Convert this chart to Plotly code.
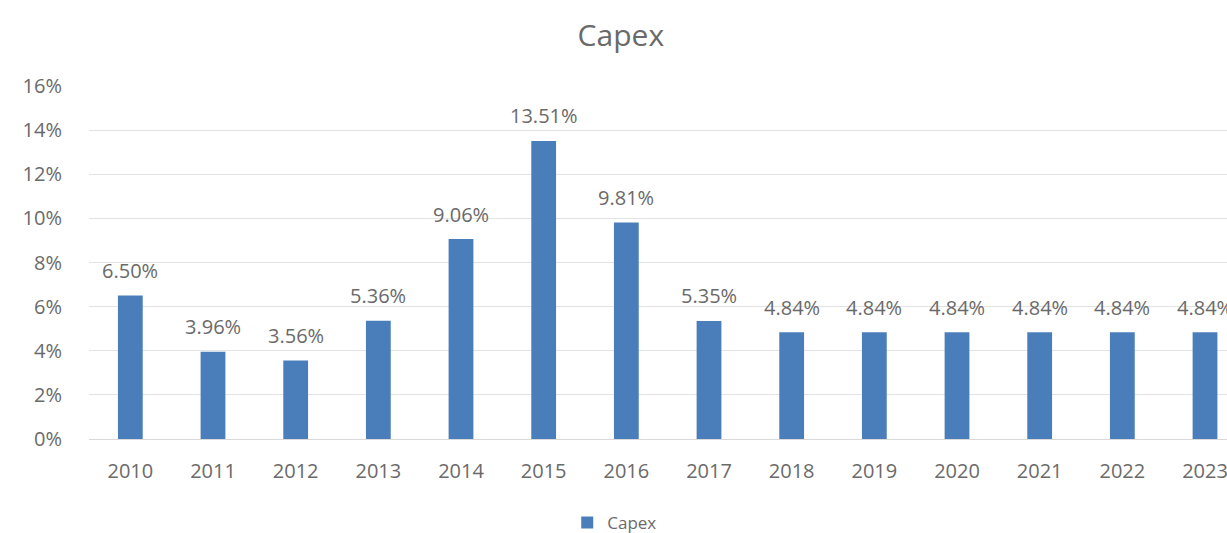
import plotly.graph_objects as go

years = ["2010", "2011", "2012", "2013", "2014", "2015", "2016",
         "2017", "2018", "2019", "2020", "2021", "2022", "2023"]
capex = [6.50, 3.96, 3.56, 5.36, 9.06, 13.51, 9.81,
         5.35, 4.84, 4.84, 4.84, 4.84, 4.84, 4.84]
y_ticks = [0, 2, 4, 6, 8, 10, 12, 14, 16]
y_tick_labels = [f"{v}%" for v in y_ticks]

FONT = "Open Sans, Noto Sans, sans-serif"
GRAY = "#6a6a6a"

fig = go.Figure()
fig.add_trace(go.Bar(
    x=years, y=capex, name="Capex",
    marker=dict(color="#4A7EBB", line=dict(width=0)),
    cliponaxis=False,
))

# data labels: x is the category index on the category axis
for i, v in enumerate(capex):
    fig.add_annotation(x=i, y=v, xref="x", yref="y", text=f"{v:.2f}%",
                       showarrow=False, yanchor="middle", yshift=25,
                       font=dict(family=FONT, size=20, color=GRAY))

fig.update_layout(
    width=1227, height=533,
    margin=dict(l=89, r=0, t=86, b=94, autoexpand=False),
    paper_bgcolor="white", plot_bgcolor="white",
    title=dict(text="Capex", x=0.506, xref="container", xanchor="center",
               y=0.933, yref="container", yanchor="middle",
               font=dict(family=FONT, size=30, color=GRAY)),
    bargap=0.70,
    showlegend=True,
    legend=dict(orientation="h", x=0.501, xanchor="center", xref="container",
                y=-0.238, yanchor="middle", yref="paper",
                font=dict(family=FONT, size=17, color=GRAY),
                itemwidth=30),
    xaxis=dict(type="category", range=[-0.5, 13.266],
               showgrid=False, zeroline=False, showline=True,
               linecolor="#D9D9D9", linewidth=1,
               tickfont=dict(family=FONT, size=20, color=GRAY),
               ticks="", ticklabelstandoff=14),
    yaxis=dict(range=[0, 16], tickvals=y_ticks, ticktext=y_tick_labels,
               showgrid=True, gridcolor="#E3E3E3", gridwidth=1,
               zeroline=False, showline=False,
               tickfont=dict(family=FONT, size=20, color=GRAY),
               ticks="", ticklabelstandoff=26),
)

fig.write_html("out.html", config={"displayModeBar": False},
               post_script="document.body.style.margin='0';document.body.style.overflow='hidden';")
